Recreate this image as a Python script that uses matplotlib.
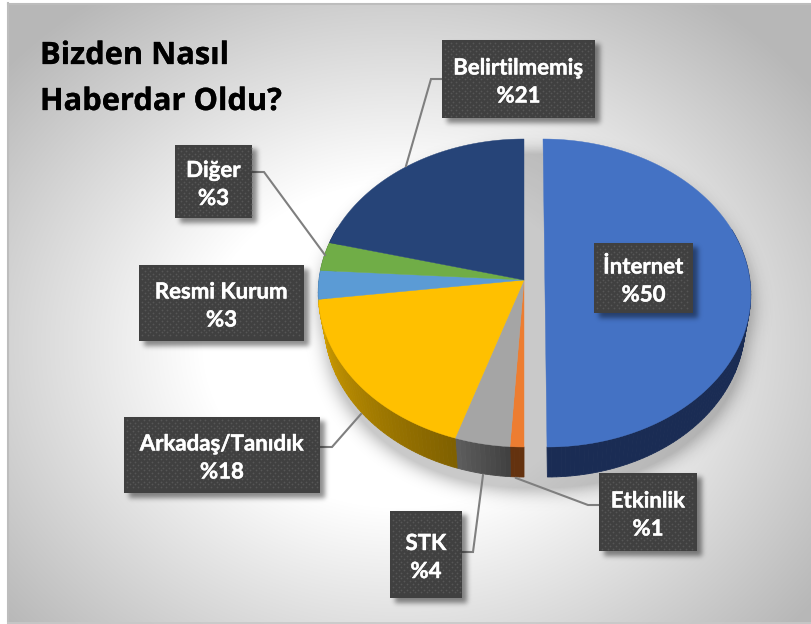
import numpy as np
import matplotlib
matplotlib.use("Agg")
import matplotlib.pyplot as plt
import matplotlib.patheffects as pe
from matplotlib.path import Path

# Data
categories = ["İnternet", "Etkinlik", "STK", "Arkadaş/Tanıdık", "Resmi Kurum", "Diğer", "Belirtilmemiş"]
values = [50, 1, 4, 18, 3, 3, 21]
colors = ["#4472c4", "#ed7d31", "#a5a5a5", "#ffc000", "#5b9bd5", "#70ad47", "#264478"]
wall_left = ["#1a2c54", "#64320f", "#5e5e5e", "#d6a200", "#3d6a94", "#4e7a31", "#1a2f54"]
wall_right = ["#1a2c54", "#64320f", "#404040", "#7f6000", "#3d6a94", "#4e7a31", "#1a2f54"]
title_lines = ["Bizden Nasıl", "Haberdar Oldu?"]

# Layout in pixels: box x0, x1, y0, y1 for each category
boxes = {
    "İnternet": (594, 693, 243, 313),
    "Etkinlik": (599, 697, 473, 551),
    "STK": (390, 462, 511, 598),
    "Arkadaş/Tanıdık": (124, 320, 417, 493),
    "Resmi Kurum": (139, 304, 265, 341),
    "Diğer": (175, 252, 145, 218),
    "Belirtilmemiş": (442, 595, 40, 118),
}
leaders = {
    "Etkinlik": [(599, 505), (588, 505), (516, 478)],
    "STK": [(462, 552), (473, 552), (483, 475)],
    "Arkadaş/Tanıdık": [(320, 447), (332, 447), (361, 414)],
    "Diğer": [(252, 172), (264, 172), (325, 255)],
    "Belirtilmemiş": [(442, 79), (431, 79), (406, 166)],
}

W, H = 812, 624
CX, CY = 524, 280
RX, RY, K = 205, 152.9, 0.0844
DEPTH = 30
EXPLODE = 21

fig = plt.figure(figsize=(W / 100, H / 100), dpi=100)
ax = fig.add_axes([0, 0, 1, 1])


def project(theta, r=1.0, shift=0.0, lean=0.0, depth=0.0):
    # theta is clockwise from the top, perspective view of a flat disc
    u = r * np.sin(theta)
    v = r * np.cos(theta)
    w = 1 + K * v
    scale = 1 - 0.03 * depth / DEPTH
    x = CX + shift + RX * scale * u / w
    y = CY - RY * v / w + depth
    return x + lean * (y - (CY + 13)), y


def blur(mask, sigma):
    fy = np.fft.fftfreq(mask.shape[0])[:, None]
    fx = np.fft.rfftfreq(mask.shape[1])[None, :]
    g = np.exp(-2 * (np.pi * sigma) ** 2 * (fx ** 2 + fy ** 2))
    return np.fft.irfft2(np.fft.rfft2(mask) * g, s=mask.shape)


yy, xx = np.mgrid[0:H, 0:W]
xx = xx + 0.5
yy = yy + 0.5

# Background: radial grey gradient inside the frame
d = np.sqrt(((xx - 400) / 520) ** 2 + ((yy - 345) / 430) ** 2)
grey = 255 - 72 * np.clip((d - 0.38) / 0.62, 0, 1)
bg = np.stack([grey, grey, grey], axis=2) / 255
bg[:3, :] = 1
bg[:, :8] = 1
ax.imshow(bg, extent=(0, W, H, 0), zorder=0, aspect="auto", interpolation="nearest")
ax.plot([8, 8], [3, 623], color="#bdbdbd", lw=1.5, zorder=1)
ax.plot([8, 812], [3.5, 3.5], color="#bdbdbd", lw=1.5, zorder=1)
ax.plot([8, 812], [623, 623], color="#c8c8c8", lw=1.2, zorder=1)

# Soft shadow under the pie, offset down from the whole block
mask = np.zeros((H, W))
pts = np.column_stack([xx.ravel() - 2, yy.ravel() - 13])
for shift, lo, hi in [(0, np.pi, 2 * np.pi), (EXPLODE, 0, np.pi)]:
    t = np.linspace(lo, hi, 120)
    for dep in [0, DEPTH]:
        px, py = project(t, shift=shift, depth=dep)
        inside = Path(np.column_stack([px, py])).contains_points(pts)
        mask = np.maximum(mask, inside.reshape(H, W).astype(float))
    px, py = project(t, shift=shift)
    qx, qy = project(t, shift=shift, depth=DEPTH)
    poly = np.vstack([np.column_stack([px, py]), np.column_stack([qx, qy])[::-1]])
    inside = Path(poly).contains_points(pts)
    mask = np.maximum(mask, inside.reshape(H, W).astype(float))
# the shadow runs on through the gap of the exploded slice
mask[152:490, CX:CX + EXPLODE + 3] = 1
shadow = np.zeros((H, W, 4))
shadow[..., 3] = np.minimum(np.clip(blur(mask, 9), 0, 1) * 0.36, 0.215)
ax.imshow(shadow, extent=(0, W, H, 0), zorder=2, aspect="auto", interpolation="bilinear")

# Pie walls then top faces, angles come from the values
edges = np.cumsum([0] + values) / sum(values) * 2 * np.pi
for i, name in enumerate(categories):
    a0, a1 = edges[i], edges[i + 1]
    shift = EXPLODE if i == 0 else 0
    lean = 0.013 if i == 0 else 0
    steps = np.linspace(a0, a1, max(4, values[i] * 3))
    c_l = np.array(matplotlib.colors.to_rgb(wall_left[i]))
    c_r = np.array(matplotlib.colors.to_rgb(wall_right[i]))
    for j in range(len(steps) - 1):
        t = np.array([steps[j], steps[j + 1]])
        if np.cos(t.mean()) > 0.35:
            continue
        tx, ty = project(t, shift=shift, lean=lean)
        bx, by = project(t, shift=shift, lean=lean, depth=DEPTH)
        frac = (j + 0.5) / (len(steps) - 1)
        col = c_r + (c_l - c_r) * frac
        ax.fill(np.r_[tx, bx[::-1]], np.r_[ty, by[::-1]], color=col, lw=0.6, zorder=3)

for i, name in enumerate(categories):
    shift = EXPLODE if i == 0 else 0
    lean = 0.013 if i == 0 else 0
    t = np.linspace(edges[i], edges[i + 1], max(6, values[i] * 4))
    x, y = project(t, shift=shift, lean=lean)
    ax0, ay0 = project(np.array([0.0]), r=0.0, shift=shift, lean=lean)
    ax.fill(np.r_[ax0, x], np.r_[ay0, y], color=colors[i], lw=0.3, zorder=4)

# Leader lines
for name, pts_line in leaders.items():
    ax.plot([p[0] for p in pts_line], [p[1] for p in pts_line], color="#7f7f7f", lw=1.5, zorder=5,
            solid_joinstyle="miter")

# Box shadows
mask = np.zeros((H, W))
for x0, x1, y0, y1 in boxes.values():
    mask[y0 + 4:y1 + 5, x0 + 5:x1 + 5] = 1
shadow = np.zeros((H, W, 4))
shadow[..., 3] = np.clip(blur(mask, 2.5), 0, 1) * 0.45
ax.imshow(shadow, extent=(0, W, H, 0), zorder=6, aspect="auto", interpolation="bilinear")

# Label boxes with the dotted texture
bold = [pe.withStroke(linewidth=0.3, foreground="white")]
for name, v in zip(categories, values):
    x0, x1, y0, y1 = boxes[name]
    ax.fill([x0, x1, x1, x0], [y0, y0, y1, y1], color="#404040", lw=0, zorder=7)
    gx, gy = np.meshgrid(np.arange(x0 + 3, x1 - 1, 5.6), np.arange(y0 + 3, y1 - 1, 5.6))
    gx2, gy2 = gx[:-1, :-1] + 2.8, gy[:-1, :-1] + 2.8
    ax.scatter(np.r_[gx.ravel(), gx2.ravel()], np.r_[gy.ravel(), gy2.ravel()], s=1.6,
               color="#565656", linewidths=0, zorder=8)
    xc = (x0 + x1) / 2
    yc = (y0 + y1) / 2
    ax.text(xc, yc - 11, name, color="white", fontsize=16, fontweight="bold", family="Lato",
            ha="center", va="center", zorder=9, path_effects=bold)
    ax.text(xc, yc + 17, f"%{v}", color="white", fontsize=16, fontweight="bold", family="Lato",
            ha="center", va="center", zorder=9, path_effects=bold)

# Title
for line, y in zip(title_lines, [64, 110]):
    ax.text(40, y, line, color="black", fontsize=22.2, fontweight="bold", family="Open Sans",
            ha="left", va="baseline", zorder=9,
            path_effects=[pe.withStroke(linewidth=0.2, foreground="black")])

ax.set_xlim(0, W)
ax.set_ylim(H, 0)
ax.axis("off")
fig.savefig("out.png", dpi=100)
